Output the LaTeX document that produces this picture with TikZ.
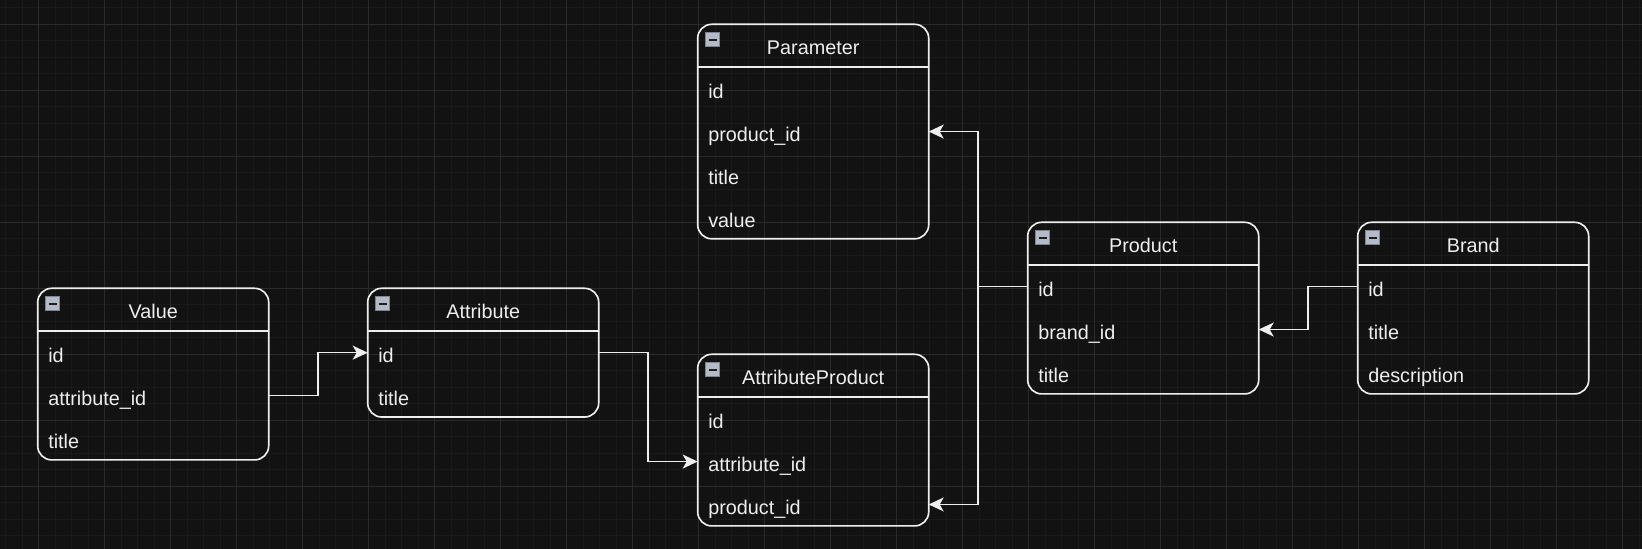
\documentclass[tikz,border=0pt]{standalone}
\usepackage{fontspec}
\setmainfont{Liberation Sans}
\usetikzlibrary{calc,arrows.meta}
\definecolor{bg}{HTML}{121212}
\definecolor{gridminor}{HTML}{1A1A1A}
\definecolor{gridmajor}{HTML}{2A2A2A}
\definecolor{fg}{HTML}{EEEEEE}
\definecolor{icofill}{HTML}{B4BAC6}
\definecolor{icoborder}{HTML}{7E8492}
\definecolor{icobar}{HTML}{1E1E1E}
\newcommand\rowfont{\fontsize{19.8}{23}\selectfont}
\newcommand\ertable[6]{% name, x, y, title, nrows, rows
  \node[tblbox, minimum height={(#5+1)*42.9pt}] (#1) at (#2,#3) {};
  \node[hdr] (#1-h) at (#2,#3) {#4};
  \draw[sepline] (#1-h.south west) -- (#1-h.south east);
  \node[icon] (#1-icon) at ({#2+7.3},{#3+8}) {};
  \foreach \r [count=\i] in {#6} {
    \node[rowtxt] (#1-\i) at (#2,{#3+\i*42.9}) {\r};
  }
}
\begin{document}
\begin{tikzpicture}[x=1pt,y=-1pt,
  tblbox/.style={draw=fg, line width=1.65pt, rounded corners=14pt, minimum width=231pt, anchor=north west, inner sep=0pt, outer sep=0pt},
  hdr/.style={anchor=north west, minimum width=231pt, minimum height=42.9pt, inner sep=0pt, outer sep=0pt, text=fg, font=\rowfont, text height=17.2pt, text depth=0pt},
  sepline/.style={draw=fg, line width=1.65pt},
  rowtxt/.style={anchor=north west, text width=209.8pt, inner xsep=10.6pt, inner ysep=0pt, minimum height=42.9pt, outer sep=0pt, align=left, text=fg, font=\rowfont, text height=19.8pt, text depth=0pt},
  icon/.style={anchor=north west, minimum width=14pt, minimum height=14pt, inner sep=0pt, draw=icoborder, fill=icofill, line width=1pt,
    path picture={\draw[icobar, line width=2.2pt] ([xshift=3pt]path picture bounding box.west) -- ([xshift=-3pt]path picture bounding box.east);}},
  conn/.style={draw=fg, line width=1.65pt, -{Stealth[length=15pt,width=14pt,inset=4pt]}},
  gminor/.style={draw=gridminor, line width=1pt},
  gmajor/.style={draw=gridmajor, line width=1pt}
]
\useasboundingbox (0,0) rectangle (1642,549);
\fill[bg] (0,0) rectangle (1642,549);
% grid
\foreach \k in {0,...,99} {
  \pgfmathsetmacro\gx{5.5+16.5*\k}
  \draw[gminor] (\gx,0) -- (\gx,549);
}
\foreach \k in {0,...,33} {
  \pgfmathsetmacro\gy{7.8+16.5*\k}
  \draw[gminor] (0,\gy) -- (1642,\gy);
}
\foreach \k in {0,...,24} {
  \pgfmathsetmacro\gx{38.5+66*\k}
  \draw[gmajor] (\gx,0) -- (\gx,549);
}
\foreach \k in {0,...,8} {
  \pgfmathsetmacro\gy{24.3+66*\k}
  \draw[gmajor] (0,\gy) -- (1642,\gy);
}
% tables
\ertable{value}{37.7}{288.3}{Value}{3}{id,attribute\_id,title}
\ertable{attribute}{367.7}{288.3}{Attribute}{2}{id,title}
\ertable{parameter}{697.7}{24.3}{Parameter}{4}{id,product\_id,title,value}
\ertable{attrprod}{697.7}{354.3}{AttributeProduct}{3}{id,attribute\_id,product\_id}
\ertable{product}{1027.7}{222.3}{Product}{3}{id,brand\_id,title}
\ertable{brand}{1357.7}{222.3}{Brand}{3}{id,title,description}
% connectors
\coordinate (m1) at ($(value-2.east)!0.5!(attribute-1.west)$);
\draw[conn] (value-2.east) -- (value-2.east -| m1) -- (attribute-1.west -| m1) -- (attribute-1.west);
\coordinate (m2) at ($(attribute-1.east)!0.5!(attrprod-2.west)$);
\draw[conn] (attribute-1.east) -- (attribute-1.east -| m2) -- (attrprod-2.west -| m2) -- (attrprod-2.west);
\coordinate (m3) at ($(parameter-2.east)!0.5!(product-1.west)$);
\draw[conn] (product-1.west) -- (product-1.west -| m3) -- (parameter-2.east -| m3) -- (parameter-2.east);
\draw[conn] (product-1.west) -- (product-1.west -| m3) -- (attrprod-3.east -| m3) -- (attrprod-3.east);
\coordinate (m4) at ($(product-2.east)!0.5!(brand-1.west)$);
\draw[conn] (brand-1.west) -- (brand-1.west -| m4) -- (product-2.east -| m4) -- (product-2.east);
\end{tikzpicture}
\end{document}
